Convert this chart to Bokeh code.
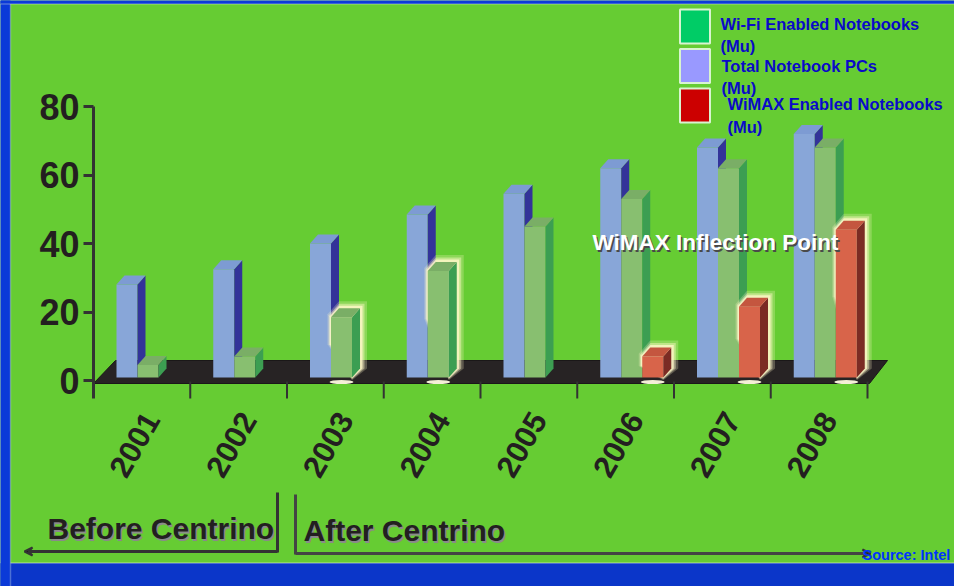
import math
from bokeh.plotting import figure
from bokeh.models import Range1d, FixedTicker, Label, Arrow, VeeHead, BoxAnnotation
from bokeh.core.properties import value
from bokeh.embed import file_html
from bokeh.resources import INLINE

# ---------------- data ----------------
years = ["2001", "2002", "2003", "2004", "2005", "2006", "2007", "2008"]
total_notebooks = [28, 32.5, 40, 48.5, 54.5, 62, 68, 72]
wifi_notebooks = [4.5, 7, 18.5, 32, 45, 53, 62, 68]
wimax_notebooks = [0, 0, 0, 0, 0, 7, 21.5, 44]
y_ticks = [0, 20, 40, 60, 80]

legend_labels = ["Wi-Fi Enabled Notebooks\n(Mu)", "Total Notebook PCs\n(Mu)",
                 "WiMAX Enabled Notebooks\n(Mu)"]
legend_colors = ["#00cc66", "#9999ff", "#cc0000"]
era_labels = ["Before Centrino", "After Centrino"]
callout_text = "WiMAX Inflection Point"
source_text = "Source: Intel"
glow_wifi_years = ["2003", "2004"]

# ---------------- layout helpers ----------------
W, H = 954, 586
X0 = 93.0      # page x of the y axis
CAT = 96.75    # px per category
Y0 = 380.0     # page y of value 0
UNIT = 3.425   # px per Mu
A = 0.60       # year-label anchor inside a category


def px(page_x):
    return (page_x - X0) / CAT - A


def py(page_y):
    return (Y0 - page_y) / UNIT


AXIS_BOTTOM = 398
GREEN = "#66cc33"
FONT = "Liberation Sans"
DARK = "#231f20"

p = figure(width=W, height=H, output_backend="svg", toolbar_location=None,
           x_range=Range1d(px(0), px(W)), y_range=Range1d(py(H), py(0)),
           min_border_left=0, min_border_right=0, min_border_top=0, min_border_bottom=0)
p.background_fill_color = GREEN
p.border_fill_color = GREEN
p.outline_line_color = None
p.grid.visible = False

# y axis
p.yaxis.fixed_location = px(X0)
p.yaxis.ticker = FixedTicker(ticks=y_ticks)
p.yaxis.bounds = (py(AXIS_BOTTOM), y_ticks[-1])
p.yaxis.axis_line_color = "#333333"
p.yaxis.axis_line_width = 3
p.yaxis.major_tick_out = 10
p.yaxis.major_tick_in = 0
p.yaxis.major_tick_line_width = 3
p.yaxis.major_tick_line_color = "#333333"
p.yaxis.minor_tick_line_color = None
p.yaxis.major_label_text_font = FONT
p.yaxis.major_label_text_font_size = "36px"
p.yaxis.major_label_text_font_style = "bold"
p.yaxis.major_label_text_color = DARK
p.yaxis.major_label_standoff = 4

# x axis (year labels only)
p.xaxis.fixed_location = py(AXIS_BOTTOM)
p.xaxis.ticker = FixedTicker(ticks=list(range(len(years))))
p.xaxis.major_label_overrides = {i: y for i, y in enumerate(years)}
p.xaxis.major_label_orientation = math.radians(60)
p.xaxis.axis_line_color = None
p.xaxis.major_tick_line_color = None
p.xaxis.minor_tick_line_color = None
p.xaxis.major_label_text_font = FONT
p.xaxis.major_label_text_font_size = "31px"
p.xaxis.major_label_text_font_style = "bold"
p.xaxis.major_label_text_color = DARK
p.xaxis.major_label_standoff = 10

# slide frame (blue)
p.add_layout(BoxAnnotation(left=px(-20), right=px(980), bottom=py(620), top=py(562.5),
                           fill_color="#0b36c9", fill_alpha=1, line_color="#e8f4e0",
                           line_width=2, level="underlay"))
p.add_layout(BoxAnnotation(left=px(-20), right=px(10), bottom=py(620), top=py(-20),
                           fill_color="#0b3ad8", fill_alpha=1, line_color="#e8f4e0",
                           line_width=1.5, level="underlay"))
p.add_layout(BoxAnnotation(left=px(-20), right=px(980), bottom=py(3.5), top=py(-20),
                           fill_color="#0b3ad8", fill_alpha=1, line_color="#e8f4e0",
                           line_width=1.5, level="underlay"))

# floor
p.patch([px(93), px(869), px(887), px(115)], [py(383), py(383), py(360), py(360)],
        fill_color="#272324", line_color="#1a1718", line_width=1)
# category tick marks
n = len(years)
p.segment(x0=[k + 1 - A for k in range(n)], y0=[py(381)] * n,
          x1=[k + 1 - A for k in range(n)], y1=[py(AXIS_BOTTOM)] * n,
          line_color="#333333", line_width=2)

BAR_OFF = 23 / CAT
BAR_W = 21 / CAT
DX = 8 / CAT
DY = 9 / UNIT
BASE = py(377)


def draw(vals, slot, front, side, top, glow=None):
    L, R, T, sx, sy, tx, ty = [], [], [], [], [], [], []
    for k, v in enumerate(vals):
        if not v:
            continue
        l = k - A + BAR_OFF + slot * BAR_W
        r = l + BAR_W
        if glow is not None and glow[k]:
            for grow, alpha in ((7, 0.25), (4.5, 0.45), (2.5, 0.8)):
                ex, ey = grow / CAT, grow / UNIT
                p.patch([l - ex * 0.5, l - ex * 0.5, l + DX, r + DX + ex, r + DX + ex, r],
                        [BASE + (v - BASE) * 0.55, v + ey * 0.4, v + DY + ey, v + DY + ey,
                         BASE + DY, BASE - ey * 0.4],
                        fill_color="#fff8c8", fill_alpha=alpha, line_color=None)
            p.ellipse(x=[(l + r) / 2], y=[py(381.5)], width=24, height=4, width_units="screen",
                      height_units="screen", fill_color="#fffbe0", line_color=None,
                      fill_alpha=0.95)
        L.append(l); R.append(r); T.append(v)
        sx.append([r, r + DX, r + DX, r]); sy.append([BASE, BASE + DY, v + DY, v])
        tx.append([l, l + DX, r + DX, r]); ty.append([v, v + DY, v + DY, v])
    p.quad(left=L, right=R, bottom=[BASE] * len(L), top=T, fill_color=front,
           line_color=None)
    p.patches(sx, sy, fill_color=side, line_color=None)
    p.patches(tx, ty, fill_color=top, line_color=None)


draw(total_notebooks, 0, "#88a6d8", "#333399", "#7d9bd3")
draw(wifi_notebooks, 1, "#88bf70", "#3c9e52", "#7aae66",
     glow=[y in glow_wifi_years for y in years])
draw(wimax_notebooks, 2, "#d8644a", "#7b2b24", "#c4563f",
     glow=[v > 0 for v in wimax_notebooks])

# callout text with shadow
p.text(x=[px(593.5)], y=[py(243.5)], text=[callout_text], text_font=value(FONT),
       text_font_size="22.5px", text_font_style="bold", text_color="#4a4a4a",
       text_baseline="middle")
p.text(x=[px(592)], y=[py(242)], text=[callout_text], text_font=value(FONT),
       text_font_size="22.5px", text_font_style="bold", text_color="white",
       text_baseline="middle")

# legend (drawn)
sw_y = [py(26), py(65.5), py(105)]
p.rect(x=[px(694.5)] * 3, y=sw_y, width=30, height=34, width_units="screen",
       height_units="screen", fill_color=legend_colors, line_color="#d8f4d0", line_width=2)
p.text(x=[px(720), px(721), px(727)], y=[py(14), py(56), py(94.5)], text=legend_labels,
       text_font=value(FONT), text_font_size="16.5px", text_font_style="bold",
       text_color="#0a0ac8", text_baseline="top", text_line_height=1.25)

# era markers
for dx_, dy_, col in ((1.5, 1.5, "#8a8a8a"), (0, 0, DARK)):
    p.add_layout(Label(x=px(47 + dx_), y=py(528 + dy_), text=era_labels[0],
                       text_font=FONT, text_font_size="30px", text_font_style="bold",
                       text_color=col, text_baseline="middle"))
    p.add_layout(Label(x=px(303 + dx_), y=py(530 + dy_), text=era_labels[1],
                       text_font=FONT, text_font_size="30px", text_font_style="bold",
                       text_color=col, text_baseline="middle"))

LC = "#333333"
p.add_layout(Arrow(end=VeeHead(size=8, line_color=LC, line_width=2), line_color=LC,
                   line_width=3, x_start=px(277), y_start=py(551), x_end=px(24), y_end=py(551)))
p.add_layout(Arrow(end=None, line_color=LC, line_width=3,
                   x_start=px(277), y_start=py(552), x_end=px(277), y_end=py(492)))
p.add_layout(Arrow(end=VeeHead(size=8, line_color=LC, line_width=2), line_color="#444444",
                   line_width=3, x_start=px(295), y_start=py(553), x_end=px(870), y_end=py(553)))
p.add_layout(Arrow(end=None, line_color="#444444", line_width=3,
                   x_start=px(295), y_start=py(554), x_end=px(295), y_end=py(494)))

p.add_layout(Label(x=px(862), y=py(554), text=source_text, text_font=FONT,
                   text_font_size="14.5px", text_font_style="bold", text_color="#0033ff",
                   text_baseline="middle"))

open("out.html", "w").write(file_html(p, INLINE))
